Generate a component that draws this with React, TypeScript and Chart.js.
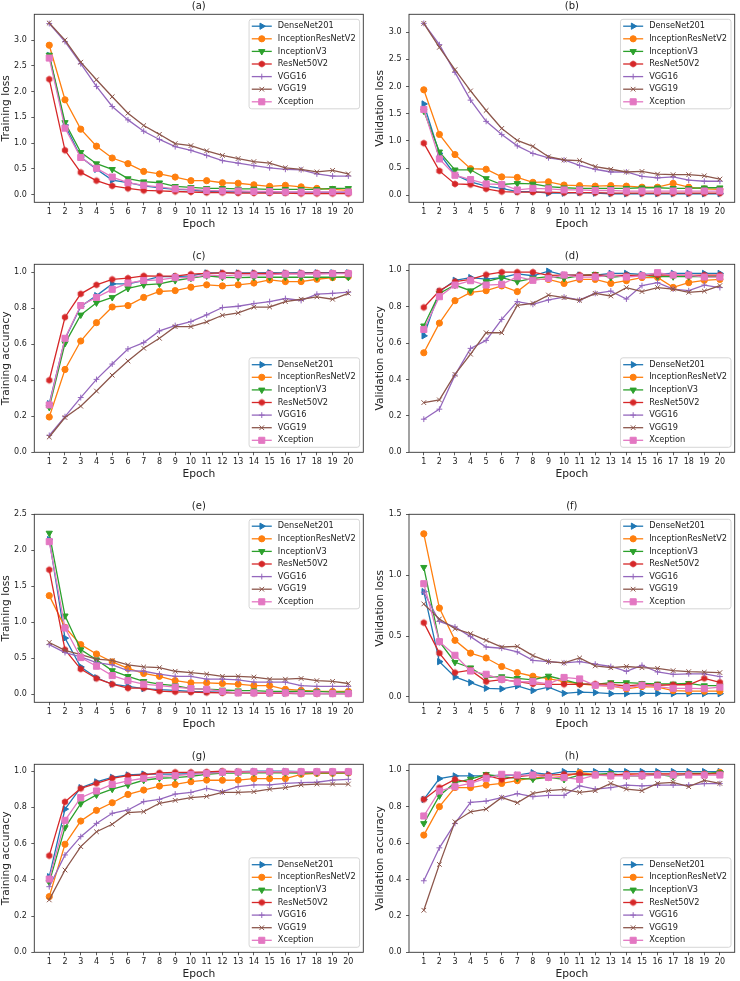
import React, { useEffect, useRef } from "react";
import { Chart, registerables } from "chart.js";

Chart.register(...registerables);

// ---------------- data ----------------
const EPOCHS = [1, 2, 3, 4, 5, 6, 7, 8, 9, 10, 11, 12, 13, 14, 15, 16, 17, 18, 19, 20];
const MODELS = ["DenseNet201", "InceptionResNetV2", "InceptionV3", "ResNet50V2", "VGG16", "VGG19", "Xception"];
const X_LABEL = "Epoch";

const TICKS_LOSS_3 = [0, 0.5, 1.0, 1.5, 2.0, 2.5, 3.0];
const TICKS_LOSS_25 = [0, 0.5, 1.0, 1.5, 2.0, 2.5];
const TICKS_LOSS_15 = [0, 0.5, 1.0, 1.5];
const TICKS_ACC = [0, 0.2, 0.4, 0.6, 0.8, 1.0];

// (a) Training loss
const A_DenseNet201 = [2.70, 1.35, 0.73, 0.49, 0.28, 0.23, 0.17, 0.13, 0.10, 0.09, 0.06, 0.06, 0.05, 0.05, 0.04, 0.04, 0.04, 0.04, 0.04, 0.04];
const A_InceptionResNetV2 = [2.90, 1.84, 1.27, 0.94, 0.71, 0.60, 0.45, 0.40, 0.34, 0.27, 0.27, 0.23, 0.22, 0.19, 0.16, 0.18, 0.15, 0.12, 0.10, 0.08];
const A_InceptionV3 = [2.71, 1.40, 0.82, 0.60, 0.49, 0.31, 0.25, 0.23, 0.16, 0.14, 0.12, 0.12, 0.11, 0.11, 0.10, 0.10, 0.10, 0.10, 0.12, 0.12];
const A_ResNet50V2 = [2.24, 0.86, 0.43, 0.27, 0.17, 0.12, 0.08, 0.07, 0.06, 0.05, 0.04, 0.04, 0.03, 0.03, 0.03, 0.03, 0.02, 0.02, 0.02, 0.02];
const A_VGG16 = [3.32, 2.97, 2.54, 2.10, 1.71, 1.45, 1.23, 1.07, 0.93, 0.86, 0.76, 0.66, 0.61, 0.56, 0.52, 0.49, 0.48, 0.40, 0.36, 0.36];
const A_VGG19 = [3.33, 3.00, 2.57, 2.23, 1.90, 1.58, 1.34, 1.17, 0.99, 0.95, 0.85, 0.76, 0.70, 0.64, 0.61, 0.52, 0.49, 0.44, 0.47, 0.40];
const A_Xception = [2.65, 1.29, 0.72, 0.51, 0.34, 0.23, 0.18, 0.15, 0.11, 0.10, 0.08, 0.07, 0.07, 0.06, 0.06, 0.05, 0.05, 0.05, 0.05, 0.05];

// (b) Validation loss
const B_DenseNet201 = [1.68, 0.77, 0.38, 0.25, 0.17, 0.13, 0.07, 0.07, 0.04, 0.04, 0.05, 0.04, 0.03, 0.03, 0.03, 0.03, 0.03, 0.03, 0.03, 0.03];
const B_InceptionResNetV2 = [1.94, 1.12, 0.75, 0.49, 0.48, 0.34, 0.33, 0.24, 0.25, 0.19, 0.18, 0.17, 0.18, 0.17, 0.15, 0.15, 0.22, 0.15, 0.12, 0.11];
const B_InceptionV3 = [1.55, 0.80, 0.47, 0.47, 0.31, 0.20, 0.22, 0.21, 0.16, 0.14, 0.13, 0.13, 0.13, 0.13, 0.14, 0.14, 0.13, 0.13, 0.14, 0.14];
const B_ResNet50V2 = [0.96, 0.45, 0.21, 0.20, 0.12, 0.07, 0.06, 0.06, 0.06, 0.05, 0.05, 0.05, 0.04, 0.04, 0.04, 0.04, 0.04, 0.04, 0.04, 0.04];
const B_VGG16 = [3.16, 2.77, 2.26, 1.75, 1.36, 1.12, 0.91, 0.77, 0.69, 0.65, 0.55, 0.48, 0.43, 0.43, 0.35, 0.32, 0.34, 0.28, 0.26, 0.26];
const B_VGG19 = [3.16, 2.72, 2.31, 1.92, 1.56, 1.23, 1.01, 0.90, 0.71, 0.65, 0.64, 0.53, 0.48, 0.43, 0.44, 0.39, 0.38, 0.38, 0.36, 0.30];
const B_Xception = [1.58, 0.67, 0.37, 0.29, 0.21, 0.20, 0.10, 0.13, 0.12, 0.10, 0.10, 0.09, 0.09, 0.08, 0.08, 0.08, 0.08, 0.08, 0.08, 0.08];

// (c) Training accuracy
const C_DenseNet201 = [0.27, 0.63, 0.81, 0.87, 0.935, 0.935, 0.954, 0.976, 0.976, 0.98, 0.996, 0.996, 0.996, 0.996, 0.997, 0.996, 0.997, 0.997, 0.997, 0.997];
const C_InceptionResNetV2 = [0.196, 0.46, 0.618, 0.72, 0.807, 0.815, 0.86, 0.893, 0.898, 0.917, 0.93, 0.924, 0.93, 0.94, 0.957, 0.948, 0.948, 0.961, 0.97, 0.976];
const C_InceptionV3 = [0.25, 0.605, 0.763, 0.83, 0.86, 0.91, 0.93, 0.935, 0.954, 0.967, 0.98, 0.972, 0.97, 0.972, 0.972, 0.972, 0.972, 0.972, 0.972, 0.972];
const C_ResNet50V2 = [0.40, 0.75, 0.88, 0.93, 0.96, 0.967, 0.98, 0.978, 0.978, 0.989, 0.994, 0.996, 0.994, 0.994, 0.993, 0.994, 0.994, 0.996, 0.994, 0.996];
const C_VGG16 = [0.094, 0.198, 0.304, 0.405, 0.49, 0.574, 0.609, 0.674, 0.704, 0.726, 0.763, 0.804, 0.811, 0.826, 0.837, 0.854, 0.843, 0.878, 0.883, 0.889];
const C_VGG19 = [0.085, 0.193, 0.256, 0.34, 0.428, 0.507, 0.578, 0.633, 0.698, 0.698, 0.724, 0.761, 0.774, 0.806, 0.807, 0.837, 0.85, 0.863, 0.85, 0.883];
const C_Xception = [0.263, 0.633, 0.815, 0.86, 0.905, 0.94, 0.954, 0.957, 0.97, 0.97, 0.985, 0.98, 0.985, 0.985, 0.987, 0.99, 0.99, 0.99, 0.992, 0.992];

// (d) Validation accuracy
const D_DenseNet201 = [0.64, 0.883, 0.945, 0.96, 0.952, 0.96, 0.98, 0.97, 0.995, 0.974, 0.974, 0.974, 0.983, 0.983, 0.978, 0.98, 0.983, 0.983, 0.983, 0.983];
const D_InceptionResNetV2 = [0.547, 0.71, 0.833, 0.879, 0.888, 0.914, 0.883, 0.95, 0.95, 0.928, 0.95, 0.95, 0.928, 0.943, 0.96, 0.961, 0.906, 0.932, 0.945, 0.95];
const D_InceptionV3 = [0.695, 0.873, 0.919, 0.888, 0.938, 0.96, 0.938, 0.956, 0.965, 0.956, 0.97, 0.978, 0.961, 0.97, 0.972, 0.965, 0.965, 0.965, 0.965, 0.965];
const D_ResNet50V2 = [0.796, 0.888, 0.938, 0.95, 0.976, 0.99, 0.99, 0.99, 0.972, 0.974, 0.974, 0.974, 0.972, 0.972, 0.972, 0.974, 0.974, 0.972, 0.974, 0.974];
const D_VGG16 = [0.182, 0.237, 0.424, 0.571, 0.615, 0.73, 0.828, 0.813, 0.837, 0.853, 0.837, 0.873, 0.886, 0.842, 0.916, 0.932, 0.897, 0.888, 0.919, 0.905];
const D_VGG19 = [0.273, 0.288, 0.428, 0.539, 0.657, 0.657, 0.807, 0.818, 0.864, 0.85, 0.835, 0.873, 0.859, 0.905, 0.883, 0.905, 0.897, 0.879, 0.886, 0.916];
const D_Xception = [0.675, 0.855, 0.919, 0.943, 0.919, 0.923, 0.965, 0.945, 0.956, 0.974, 0.963, 0.963, 0.974, 0.963, 0.97, 0.987, 0.974, 0.974, 0.963, 0.963];

// (e) Training loss
const E_DenseNet201 = [2.15, 0.78, 0.38, 0.23, 0.14, 0.11, 0.08, 0.065, 0.055, 0.04, 0.035, 0.03, 0.02, 0.02, 0.015, 0.015, 0.01, 0.01, 0.01, 0.01];
const E_InceptionResNetV2 = [1.37, 0.93, 0.69, 0.56, 0.45, 0.36, 0.29, 0.25, 0.19, 0.16, 0.16, 0.15, 0.14, 0.12, 0.12, 0.07, 0.055, 0.045, 0.04, 0.04];
const E_InceptionV3 = [2.24, 1.09, 0.62, 0.48, 0.33, 0.25, 0.18, 0.14, 0.12, 0.08, 0.07, 0.06, 0.05, 0.05, 0.04, 0.04, 0.04, 0.04, 0.03, 0.03];
const E_ResNet50V2 = [1.73, 0.62, 0.35, 0.22, 0.14, 0.085, 0.085, 0.045, 0.035, 0.03, 0.025, 0.02, 0.02, 0.015, 0.015, 0.015, 0.01, 0.01, 0.01, 0.01];
const E_VGG16 = [0.69, 0.58, 0.52, 0.44, 0.41, 0.33, 0.32, 0.28, 0.25, 0.25, 0.21, 0.21, 0.20, 0.17, 0.17, 0.17, 0.12, 0.11, 0.11, 0.11];
const E_VGG19 = [0.72, 0.61, 0.55, 0.49, 0.47, 0.41, 0.38, 0.37, 0.32, 0.30, 0.28, 0.25, 0.25, 0.24, 0.21, 0.21, 0.22, 0.19, 0.18, 0.15];
const E_Xception = [2.12, 0.92, 0.51, 0.39, 0.26, 0.19, 0.14, 0.12, 0.10, 0.08, 0.07, 0.04, 0.02, 0.02, 0.02, 0.02, 0.015, 0.015, 0.01, 0.01];

// (f) Validation loss
const F_DenseNet201 = [0.865, 0.29, 0.164, 0.118, 0.071, 0.066, 0.09, 0.052, 0.08, 0.03, 0.04, 0.036, 0.027, 0.027, 0.03, 0.03, 0.027, 0.027, 0.027, 0.027];
const F_InceptionResNetV2 = [1.34, 0.73, 0.465, 0.36, 0.32, 0.25, 0.20, 0.17, 0.15, 0.126, 0.107, 0.096, 0.09, 0.066, 0.085, 0.08, 0.052, 0.047, 0.047, 0.047];
const F_InceptionV3 = [1.065, 0.454, 0.285, 0.24, 0.16, 0.167, 0.153, 0.14, 0.172, 0.14, 0.107, 0.104, 0.118, 0.118, 0.112, 0.107, 0.107, 0.112, 0.093, 0.093];
const F_ResNet50V2 = [0.61, 0.36, 0.20, 0.22, 0.126, 0.142, 0.126, 0.107, 0.104, 0.104, 0.104, 0.107, 0.104, 0.09, 0.10, 0.096, 0.10, 0.10, 0.153, 0.12];
const F_VGG16 = [0.86, 0.62, 0.575, 0.495, 0.41, 0.40, 0.37, 0.30, 0.29, 0.28, 0.29, 0.27, 0.25, 0.21, 0.26, 0.205, 0.186, 0.19, 0.19, 0.167];
const F_VGG19 = [0.764, 0.64, 0.56, 0.52, 0.465, 0.41, 0.415, 0.34, 0.29, 0.28, 0.32, 0.255, 0.24, 0.25, 0.24, 0.235, 0.216, 0.208, 0.203, 0.20];
const F_Xception = [0.93, 0.454, 0.342, 0.213, 0.186, 0.145, 0.123, 0.126, 0.107, 0.16, 0.148, 0.096, 0.09, 0.077, 0.096, 0.085, 0.071, 0.071, 0.068, 0.08];

// (g) Training accuracy
const G_DenseNet201 = [0.417, 0.79, 0.908, 0.94, 0.965, 0.978, 0.983, 0.983, 0.983, 0.985, 0.989, 0.996, 0.996, 0.999, 0.999, 0.999, 0.996, 0.996, 0.996, 0.996];
const G_InceptionResNetV2 = [0.307, 0.596, 0.724, 0.783, 0.825, 0.871, 0.895, 0.917, 0.926, 0.941, 0.95, 0.949, 0.95, 0.958, 0.958, 0.958, 0.982, 0.987, 0.987, 0.989];
const G_InceptionV3 = [0.386, 0.688, 0.82, 0.868, 0.90, 0.923, 0.949, 0.96, 0.963, 0.97, 0.982, 0.989, 0.989, 0.99, 0.99, 0.99, 0.989, 0.99, 0.99, 0.99];
const G_ResNet50V2 = [0.533, 0.83, 0.904, 0.932, 0.96, 0.974, 0.978, 0.99, 0.993, 0.993, 0.995, 0.999, 0.996, 0.996, 0.996, 0.996, 0.996, 0.996, 0.996, 0.996];
const G_VGG16 = [0.362, 0.537, 0.638, 0.711, 0.767, 0.785, 0.831, 0.844, 0.873, 0.882, 0.904, 0.886, 0.914, 0.923, 0.923, 0.932, 0.936, 0.938, 0.95, 0.954];
const G_VGG19 = [0.289, 0.454, 0.583, 0.665, 0.706, 0.77, 0.776, 0.822, 0.838, 0.853, 0.86, 0.882, 0.882, 0.886, 0.90, 0.908, 0.923, 0.928, 0.928, 0.928];
const G_Xception = [0.404, 0.728, 0.853, 0.89, 0.926, 0.945, 0.96, 0.97, 0.974, 0.982, 0.987, 0.993, 0.994, 0.996, 0.996, 0.996, 0.996, 0.996, 0.996, 0.996];

// (h) Validation accuracy
const H_DenseNet201 = [0.84, 0.954, 0.969, 0.969, 0.969, 0.974, 0.974, 0.987, 0.978, 0.993, 0.993, 0.993, 0.993, 0.993, 0.993, 0.993, 0.993, 0.993, 0.993, 0.993];
const H_InceptionResNetV2 = [0.644, 0.80, 0.905, 0.905, 0.919, 0.928, 0.943, 0.96, 0.96, 0.965, 0.987, 0.978, 0.97, 0.978, 0.969, 0.978, 0.978, 0.978, 0.978, 0.989];
const H_InceptionV3 = [0.708, 0.86, 0.932, 0.952, 0.978, 0.965, 0.956, 0.952, 0.961, 0.95, 0.974, 0.978, 0.983, 0.969, 0.97, 0.978, 0.965, 0.983, 0.983, 0.987];
const H_ResNet50V2 = [0.84, 0.905, 0.95, 0.932, 0.972, 0.95, 0.965, 0.974, 0.974, 0.978, 0.98, 0.974, 0.974, 0.98, 0.98, 0.98, 0.98, 0.98, 0.98, 0.98];
const H_VGG16 = [0.393, 0.574, 0.708, 0.824, 0.831, 0.85, 0.872, 0.855, 0.862, 0.862, 0.914, 0.897, 0.905, 0.919, 0.914, 0.919, 0.919, 0.919, 0.927, 0.927];
const H_VGG19 = [0.231, 0.483, 0.717, 0.772, 0.787, 0.851, 0.822, 0.873, 0.888, 0.895, 0.879, 0.888, 0.928, 0.897, 0.888, 0.928, 0.934, 0.91, 0.945, 0.928];
const H_Xception = [0.749, 0.886, 0.91, 0.928, 0.956, 0.978, 0.974, 0.974, 0.961, 0.96, 0.95, 0.974, 0.969, 0.97, 0.97, 0.974, 0.974, 0.974, 0.974, 0.974];

const PANELS = [
  { title: "(a)", yLabel: "Training loss", series: [A_DenseNet201, A_InceptionResNetV2, A_InceptionV3, A_ResNet50V2, A_VGG16, A_VGG19, A_Xception], yMin: -0.15, yMax: 3.5, yTicks: TICKS_LOSS_3, loc: "upper", col: 0, row: 0 },
  { title: "(b)", yLabel: "Validation loss", series: [B_DenseNet201, B_InceptionResNetV2, B_InceptionV3, B_ResNet50V2, B_VGG16, B_VGG19, B_Xception], yMin: -0.127, yMax: 3.327, yTicks: TICKS_LOSS_3, loc: "upper", col: 1, row: 0 },
  { title: "(c)", yLabel: "Training accuracy", series: [C_DenseNet201, C_InceptionResNetV2, C_InceptionV3, C_ResNet50V2, C_VGG16, C_VGG19, C_Xception], yMin: 0, yMax: 1.044, yTicks: TICKS_ACC, loc: "lower", col: 0, row: 1 },
  { title: "(d)", yLabel: "Validation accuracy", series: [D_DenseNet201, D_InceptionResNetV2, D_InceptionV3, D_ResNet50V2, D_VGG16, D_VGG19, D_Xception], yMin: 0, yMax: 1.033, yTicks: TICKS_ACC, loc: "lower", col: 1, row: 1 },
  { title: "(e)", yLabel: "Training loss", series: [E_DenseNet201, E_InceptionResNetV2, E_InceptionV3, E_ResNet50V2, E_VGG16, E_VGG19, E_Xception], yMin: -0.111, yMax: 2.5, yTicks: TICKS_LOSS_25, loc: "upper", col: 0, row: 2 },
  { title: "(f)", yLabel: "Validation loss", series: [F_DenseNet201, F_InceptionResNetV2, F_InceptionV3, F_ResNet50V2, F_VGG16, F_VGG19, F_Xception], yMin: -0.044, yMax: 1.5, yTicks: TICKS_LOSS_15, loc: "upper", col: 1, row: 2 },
  { title: "(g)", yLabel: "Training accuracy", series: [G_DenseNet201, G_InceptionResNetV2, G_InceptionV3, G_ResNet50V2, G_VGG16, G_VGG19, G_Xception], yMin: 0, yMax: 1.037, yTicks: TICKS_ACC, loc: "lower", col: 0, row: 3 },
  { title: "(h)", yLabel: "Validation accuracy", series: [H_DenseNet201, H_InceptionResNetV2, H_InceptionV3, H_ResNet50V2, H_VGG16, H_VGG19, H_Xception], yMin: 0, yMax: 1.033, yTicks: TICKS_ACC, loc: "lower", col: 1, row: 3 },
];

// ---------------- styles ----------------
const FONT = '"DejaVu Sans", sans-serif';
const TEXT = "#222222";
const COLORS = ["#1f77b4", "#ff7f0e", "#2ca02c", "#d62728", "#9467bd", "#8c564b", "#e377c2"];
const MARKERS = ["triRight", "circle", "triDown", "hexagon", "plus", "x", "square"];
const CANVAS_W = 370;
const CANVAS_H = 231;
const ROW_STEP = 250;
const TITLE_H = 14.3;
const PLOT_H = 188;
const X_AXIS_H = CANVAS_H - TITLE_H - PLOT_H;
const Y_AXIS_W = [34.3, 39];
const PAD_RIGHT = [6.7, 3.3];
const YTITLE_PAD = [0, 3.4];
const TICK_SIZE = 8;
const LEGEND_SIZE = 8.2;
const LABEL_SIZE = 10.7;
const TITLE_SIZE = 10;
const LINE_W = 1.3;

function makeHexagon(color: string, r: number) {
  const size = Math.ceil(r * 2 + 3);
  const c = document.createElement("canvas");
  c.width = size;
  c.height = size;
  const g = c.getContext("2d")!;
  const cx = size / 2;
  const cy = size / 2;
  g.beginPath();
  for (let k = 0; k < 6; k++) {
    const a = -Math.PI / 2 + (k * Math.PI) / 3;
    const px = cx + r * Math.cos(a);
    const py = cy + r * Math.sin(a);
    if (k === 0) g.moveTo(px, py);
    else g.lineTo(px, py);
  }
  g.closePath();
  g.fillStyle = color;
  g.fill();
  g.strokeStyle = color;
  g.lineWidth = 0.8;
  g.stroke();
  return c;
}

function pointProps(i: number, hex: HTMLCanvasElement) {
  const kind = MARKERS[i];
  switch (kind) {
    case "triRight":
      return { pointStyle: "triangle", pointRotation: 90, pointRadius: 3.6 };
    case "circle":
      return { pointStyle: "circle", pointRotation: 0, pointRadius: 3.1 };
    case "triDown":
      return { pointStyle: "triangle", pointRotation: 180, pointRadius: 3.6 };
    case "hexagon":
      return { pointStyle: hex, pointRotation: 0, pointRadius: 3 };
    case "plus":
      return { pointStyle: "cross", pointRotation: 0, pointRadius: 2.9 };
    case "x":
      return { pointStyle: "crossRot", pointRotation: 0, pointRadius: 3.3 };
    default:
      return { pointStyle: "rect", pointRotation: 0, pointRadius: 4.3 };
  }
}

function drawMarker(ctx: CanvasRenderingContext2D, i: number, x: number, y: number, color: string, hex: HTMLCanvasElement) {
  const p: any = pointProps(i, hex);
  const r = p.pointRadius;
  let rad = (p.pointRotation * Math.PI) / 180;
  ctx.save();
  ctx.fillStyle = color;
  ctx.strokeStyle = color;
  ctx.lineWidth = 1;
  if (typeof p.pointStyle !== "string") {
    ctx.drawImage(hex, x - hex.width / 2, y - hex.height / 2);
    ctx.restore();
    return;
  }
  ctx.beginPath();
  if (p.pointStyle === "triangle") {
    for (let k = 0; k < 3; k++) {
      const px = x + Math.sin(rad) * r;
      const py = y - Math.cos(rad) * r;
      if (k === 0) ctx.moveTo(px, py);
      else ctx.lineTo(px, py);
      rad += (2 * Math.PI) / 3;
    }
    ctx.closePath();
  } else if (p.pointStyle === "circle") {
    ctx.arc(x, y, r, 0, Math.PI * 2);
    ctx.closePath();
  } else if (p.pointStyle === "rect") {
    const s = Math.SQRT1_2 * r;
    ctx.rect(x - s, y - s, 2 * s, 2 * s);
  } else {
    if (p.pointStyle === "crossRot") rad += Math.PI / 4;
    const xo = Math.cos(rad) * r;
    const yo = Math.sin(rad) * r;
    ctx.moveTo(x - xo, y - yo);
    ctx.lineTo(x + xo, y + yo);
    ctx.moveTo(x + yo, y - xo);
    ctx.lineTo(x - yo, y + xo);
  }
  ctx.fill();
  ctx.stroke();
  ctx.restore();
}

function makeOverlay(loc: string, hex: HTMLCanvasElement) {
  return {
    id: "mplOverlay",
    afterDatasetsDraw(chart: any) {
      const ctx: CanvasRenderingContext2D = chart.ctx;
      const a = chart.chartArea;
      ctx.save();
      // frame (spines)
      ctx.strokeStyle = "#333333";
      ctx.lineWidth = 0.9;
      ctx.strokeRect(a.left, a.top, a.right - a.left, a.bottom - a.top);
      // legend
      ctx.font = `${LEGEND_SIZE}px ${FONT}`;
      const labels: string[] = chart.data.datasets.map((d: any) => d.label);
      const maxW = Math.max(...labels.map((l) => ctx.measureText(l).width));
      const W = 28.7 + maxW + 4;
      const H = 89.5;
      const x0 = a.right - 3.7 - W;
      const y0 = loc === "upper" ? a.top + 5 : a.bottom - 5 - H;
      ctx.beginPath();
      ctx.roundRect(x0, y0, W, H, 2.5);
      ctx.fillStyle = "rgba(255,255,255,0.8)";
      ctx.fill();
      ctx.strokeStyle = "#cccccc";
      ctx.lineWidth = 0.8;
      ctx.stroke();
      chart.data.datasets.forEach((d: any, i: number) => {
        const cy = y0 + 6.9 + i * 12.6;
        ctx.strokeStyle = d.borderColor;
        ctx.lineWidth = LINE_W;
        ctx.beginPath();
        ctx.moveTo(x0 + 2.7, cy);
        ctx.lineTo(x0 + 22.7, cy);
        ctx.stroke();
        drawMarker(ctx, i, x0 + 12.7, cy, d.borderColor, hex);
        ctx.fillStyle = TEXT;
        ctx.font = `${LEGEND_SIZE}px ${FONT}`;
        ctx.textBaseline = "middle";
        ctx.textAlign = "left";
        ctx.fillText(d.label, x0 + 28.7, cy);
      });
      ctx.restore();
    },
  };
}

function Panel({ p }: { p: any }) {
  const ref = useRef<HTMLCanvasElement>(null);
  useEffect(() => {
    const hex = makeHexagon(COLORS[3], 3.1);
    const datasets = p.series.map((vals: number[], i: number) => ({
      label: MODELS[i],
      data: EPOCHS.map((e, k) => ({ x: e, y: vals[k] })),
      borderColor: COLORS[i],
      backgroundColor: COLORS[i],
      borderWidth: LINE_W,
      pointBackgroundColor: COLORS[i],
      pointBorderColor: COLORS[i],
      pointBorderWidth: 1,
      ...pointProps(i, hex),
      tension: 0,
      order: MODELS.length - 1 - i,
    }));
    const tickFont = { family: FONT, size: TICK_SIZE };
    const chart = new Chart(ref.current!, {
      type: "line",
      data: { datasets },
      options: {
        animation: false,
        responsive: false,
        devicePixelRatio: 1,
        events: [],
        layout: { padding: { left: 0, right: PAD_RIGHT[p.col], top: 0, bottom: 0 } },
        plugins: {
          legend: { display: false },
          tooltip: { enabled: false },
          title: {
            display: true,
            text: p.title,
            fullSize: false,
            color: TEXT,
            font: { family: FONT, size: TITLE_SIZE, weight: "normal" },
            padding: { top: 0.7, bottom: 1.6 },
          },
        },
        scales: {
          x: {
            type: "linear",
            min: 0.05,
            max: 20.95,
            afterBuildTicks: (s: any) => {
              s.ticks = EPOCHS.map((v) => ({ value: v }));
            },
            afterFit: (s: any) => {
              s.height = X_AXIS_H;
            },
            ticks: { autoSkip: false, maxRotation: 0, minRotation: 0, color: TEXT, font: tickFont, padding: 1.5, callback: (v: any) => String(v) },
            grid: { drawOnChartArea: false, drawTicks: true, tickLength: 3, tickColor: "#333333", tickWidth: 0.8 },
            border: { display: false },
            title: { display: true, text: X_LABEL, color: TEXT, font: { family: FONT, size: LABEL_SIZE }, padding: { top: 0, bottom: 0.3 } },
          },
          y: {
            type: "linear",
            min: p.yMin,
            max: p.yMax,
            afterBuildTicks: (s: any) => {
              s.ticks = p.yTicks.map((v: number) => ({ value: v }));
            },
            afterFit: (s: any) => {
              s.width = Y_AXIS_W[p.col];
            },
            ticks: { autoSkip: false, color: TEXT, font: tickFont, padding: 4.5, callback: (v: any) => Number(v).toFixed(1) },
            grid: { drawOnChartArea: false, drawTicks: true, tickLength: 3, tickColor: "#333333", tickWidth: 0.8 },
            border: { display: false },
            title: { display: true, text: p.yLabel, color: TEXT, font: { family: FONT, size: LABEL_SIZE }, padding: { top: YTITLE_PAD[p.col], bottom: 0 } },
          },
        },
      } as any,
      plugins: [makeOverlay(p.loc, hex)],
    } as any);
    return () => chart.destroy();
  }, []);
  return (
    <canvas
      ref={ref}
      width={CANVAS_W}
      height={CANVAS_H}
      style={{ position: "absolute", left: p.col * CANVAS_W, top: p.row * ROW_STEP, width: CANVAS_W, height: CANVAS_H }}
    />
  );
}

export default function App() {
  return (
    <div style={{ position: "absolute", left: 0, top: 0, width: 740, height: 981, background: "#ffffff", overflow: "hidden" }}>
      {PANELS.map((p, i) => (
        <Panel key={i} p={p} />
      ))}
    </div>
  );
}
